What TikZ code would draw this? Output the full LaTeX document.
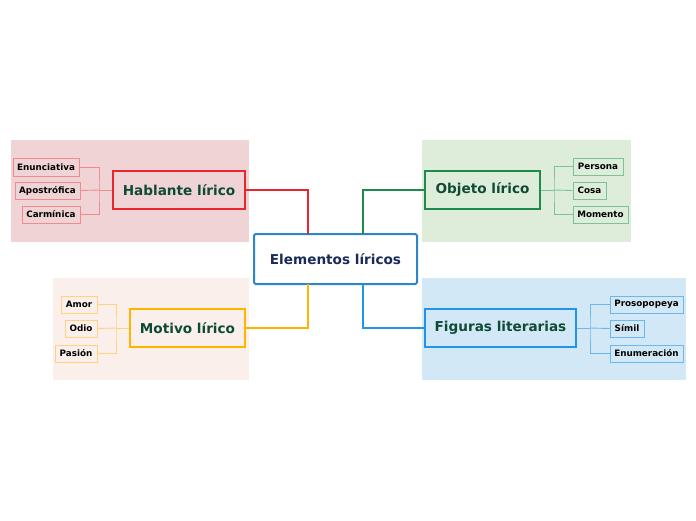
\documentclass[tikz,border=0pt]{standalone}
\usepackage{fontspec}
\setmainfont{DejaVu Sans}
\begin{document}
\begin{tikzpicture}[x=1pt,y=-1pt,
  topic/.style={draw, line width=2.4pt, inner sep=0pt, font=\fontsize{13.6}{15}\selectfont\bfseries, text=topictext},
  sub/.style={draw, line width=0.9pt, inner sep=0pt, font=\fontsize{8.8}{10}\selectfont\bfseries, text=black},
  link/.style={line width=1.3pt},
  sublink/.style={line width=0.9pt}]
\definecolor{topictext}{HTML}{0F4A35}
\definecolor{bgred}{HTML}{F0D4D5}
\definecolor{bggreen}{HTML}{DDEDD9}
\definecolor{bgorange}{HTML}{FBEFEB}
\definecolor{bgblue}{HTML}{D2E8F7}
\definecolor{cred}{HTML}{E8262D}
\definecolor{cgreen}{HTML}{1E8A4C}
\definecolor{corange}{HTML}{FFB400}
\definecolor{cblue}{HTML}{2196E8}
\definecolor{lred}{HTML}{F08A8E}
\definecolor{lgreen}{HTML}{7CC39A}
\definecolor{lorange}{HTML}{FFD27F}
\definecolor{lblue}{HTML}{6BB8F0}
\definecolor{cmain}{HTML}{2E86C8}
\definecolor{tmain}{HTML}{1A2A5A}
\useasboundingbox (0,0) rectangle (696,520);
% backgrounds
\fill[bgred] (11,140) rectangle (249,242);
\fill[bggreen] (422,140) rectangle (631,242);
\fill[bgorange] (53,278) rectangle (249,380);
\fill[bgblue] (422,278) rectangle (686,380);
% central
\node[draw=cmain, line width=2pt, fill=white, rounded corners=1.5pt, minimum width=163pt, minimum height=50pt, inner sep=0pt, text=tmain, font=\fontsize{13.6}{15}\selectfont\bfseries] (c) at (335.5,259) {Elementos líricos};
% topics
\node[topic, draw=cred, minimum width=132pt, minimum height=38pt] (h) at (179,190) {Hablante lírico};
\node[topic, draw=cgreen, minimum width=115pt, minimum height=38pt] (o) at (482.5,190) {Objeto lírico};
\node[topic, draw=corange, minimum width=115pt, minimum height=38pt] (m) at (187.5,328) {Motivo lírico};
\node[topic, draw=cblue, minimum width=151pt, minimum height=38pt] (f) at (500.5,328) {Figuras literarias};
% main links
\coordinate (hc) at (308,234);
\coordinate (oc) at (363,234);
\coordinate (mc) at (308,284);
\coordinate (fc) at (363,284);
\draw[link, cred] (h.east) -| (hc);
\draw[link, cgreen] (o.west) -| (oc);
\draw[link, corange] (m.east) -| (mc);
\draw[link, cblue] (f.west) -| (fc);
% Hablante subs
\node[sub, draw=lred, minimum width=66pt, minimum height=18pt] (h1) at (46,167) {Enunciativa};
\node[sub, draw=lred, minimum width=65pt, minimum height=17pt] (h2) at (47.5,190.5) {Apostrófica};
\node[sub, draw=lred, minimum width=58pt, minimum height=17pt] (h3) at (51,214.5) {Carmínica};
\coordinate (hb) at (99,190);
\draw[sublink, lred] (h.west) -- (hb);
\draw[sublink, lred] (h1.east) -| (hb) |- (h3.east);
\draw[sublink, lred] (hb) -- (h2.east);
% Objeto subs
\node[sub, draw=lgreen, minimum width=50pt, minimum height=17pt] (o1) at (598,166.5) {Persona};
\node[sub, draw=lgreen, minimum width=33pt, minimum height=17pt] (o2) at (589.5,190.5) {Cosa};
\node[sub, draw=lgreen, minimum width=55pt, minimum height=17pt] (o3) at (600.5,214.5) {Momento};
\coordinate (ob) at (554,190);
\draw[sublink, lgreen] (o.east) -- (ob);
\draw[sublink, lgreen] (o1.west) -| (ob) |- (o3.west);
\draw[sublink, lgreen] (ob) -- (o2.west);
% Motivo subs
\node[sub, draw=lorange, minimum width=36pt, minimum height=17pt] (m1) at (79,304.5) {Amor};
\node[sub, draw=lorange, minimum width=32pt, minimum height=17pt] (m2) at (81,328.5) {Odio};
\node[sub, draw=lorange, minimum width=42pt, minimum height=17pt] (m3) at (76,353.5) {Pasión};
\coordinate (mb) at (116,328);
\draw[sublink, lorange] (m.west) -- (mb);
\draw[sublink, lorange] (m1.east) -| (mb) |- (m3.east);
\draw[sublink, lorange] (mb) -- (m2.east);
% Figuras subs
\node[sub, draw=lblue, minimum width=73pt, minimum height=17pt] (f1) at (646.5,304.5) {Prosopopeya};
\node[sub, draw=lblue, minimum width=34pt, minimum height=17pt] (f2) at (627,328.5) {Símil};
\node[sub, draw=lblue, minimum width=73pt, minimum height=17pt] (f3) at (646.5,353.5) {Enumeración};
\coordinate (fb) at (590,328);
\draw[sublink, lblue] (f.east) -- (fb);
\draw[sublink, lblue] (f1.west) -| (fb) |- (f3.west);
\draw[sublink, lblue] (fb) -- (f2.west);
\end{tikzpicture}
\end{document}
